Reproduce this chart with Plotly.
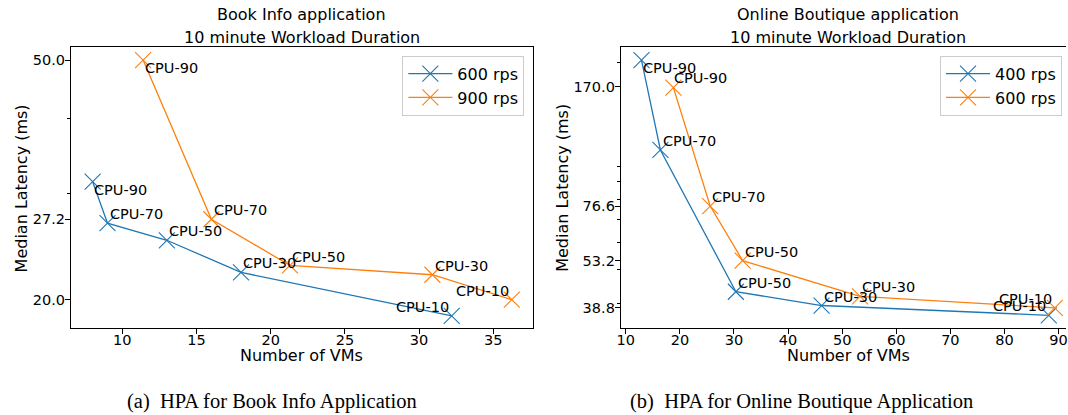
import math
import plotly.graph_objects as go

# ---------------- data ----------------
labels = ["CPU-90", "CPU-70", "CPU-50", "CPU-30", "CPU-10"]

# (a) Book Info application
book_600_vms = [8.0, 9.0, 13.0, 18.0, 32.2]
book_600_lat = [31.4, 26.8, 25.1, 22.2, 18.8]
book_900_vms = [11.4, 16.0, 21.3, 30.9, 36.25]
book_900_lat = [50.0, 27.2, 22.8, 22.0, 20.0]
book_xticks = [10, 15, 20, 25, 30, 35]
book_yticks = [20.0, 27.2, 50.0]
book_minor = [30, 40]

# (b) Online Boutique application
ob_400_vms = [12.9, 16.4, 30.35, 46.2, 88.2]
ob_400_lat = [203.0, 111.4, 43.2, 39.4, 36.9]
ob_600_vms = [18.8, 25.6, 31.6, 53.3, 89.3]
ob_600_lat = [169.0, 76.6, 53.2, 41.9, 38.8]
ob_xticks = [10, 20, 30, 40, 50, 60, 70, 80, 90]
ob_yticks = [38.8, 53.2, 76.6, 170.0]
ob_minor = [40, 50, 60, 70, 80, 90, 100, 200]

BLUE = "#1f77b4"
ORANGE = "#ff7f0e"
FONT = "DejaVu Sans"
W, H = 1068, 415

fig = go.Figure()

def add_series(x, y, name, color, xa, ya, legend):
    fig.add_trace(go.Scatter(
        x=x, y=y, name=name, mode="lines+markers",
        line=dict(color=color, width=1.3),
        marker=dict(symbol="x-thin", size=16, line=dict(color=color, width=1.1)),
        xaxis=xa, yaxis=ya, legend=legend,
    ))

add_series(book_600_vms, book_600_lat, "600 rps", BLUE, "x", "y", "legend")
add_series(book_900_vms, book_900_lat, "900 rps", ORANGE, "x", "y", "legend")
add_series(ob_400_vms, ob_400_lat, "400 rps", BLUE, "x2", "y2", "legend2")
add_series(ob_600_vms, ob_600_lat, "600 rps", ORANGE, "x2", "y2", "legend2")

# label placement style: (anchor, dx px, baseline dy px, screen-down)
def lbl_style(i, below_first=True):
    if i == 0 and below_first:
        return ("left", 1.5, 12.5)
    if i == 0:
        return ("left", 0.7, -5.4)
    if i == 4:
        return ("right", -2.5, -4.5)
    return ("left", 2.2, -4.3)

annotations = []
def add_labels(xs, ys, xref, yref, below_first=True):
    for i, (xv, yv) in enumerate(zip(xs, ys)):
        anc, dx, bdy = lbl_style(i, below_first)
        xshift = dx - 2 if anc == "left" else dx + 2
        yshift = -(bdy + 5.4)
        annotations.append(dict(
            x=xv, y=math.log10(yv), xref=xref, yref=yref, text=labels[i],
            showarrow=False, xanchor=anc, yanchor="bottom",
            xshift=xshift, yshift=yshift,
            font=dict(family=FONT, size=14.5, color="black"),
        ))

add_labels(book_600_vms, book_600_lat, "x", "y")
add_labels(book_900_vms, book_900_lat, "x", "y")
add_labels(ob_400_vms, ob_400_lat, "x2", "y2")
add_labels(ob_600_vms, ob_600_lat, "x2", "y2", below_first=False)

def paper_text(text, px, py, size, family=FONT, angle=0, color="black"):
    annotations.append(dict(
        x=px / W, y=1 - py / H, xref="paper", yref="paper", text=text,
        showarrow=False, xanchor="center", yanchor="middle", textangle=angle,
        font=dict(family=family, size=size, color=color),
    ))

# titles
paper_text("Book Info application", 299.5, 14, 16)
paper_text("10 minute Workload Duration", 299.5, 38, 16)
paper_text("Online Boutique application", 849, 14, 16)
paper_text("10 minute Workload Duration", 849, 38, 16)
# axis titles
paper_text("Number of VMs", 299.5, 355, 16)
paper_text("Number of VMs", 849, 355, 16)
paper_text("Median Latency (ms)", 17.5, 188, 16, angle=-90)
paper_text("Median Latency (ms)", 561, 188, 16, angle=-90)
# captions
paper_text("(a)  HPA for Book Info Application", 270, 401, 20.5, family="Liberation Serif")
paper_text("(b)  HPA for Online Boutique Application", 802, 401, 20.5, family="Liberation Serif")

ydom = [1 - 328.3 / H, 1 - 47.3 / H]

common_axis = dict(
    showline=True, linecolor="black", linewidth=1,
    ticks="outside", ticklen=5, tickwidth=1, tickcolor="black",
    showgrid=False, zeroline=False, ticklabeloverflow="allow",
    tickfont=dict(family=FONT, size=14.5, color="black"),
)

fig.update_layout(
    width=W, height=H, autosize=False,
    margin=dict(l=0, r=0, t=0, b=0),
    paper_bgcolor="white", plot_bgcolor="white",
    annotations=annotations,
    xaxis=dict(domain=[67.3 / W, 531.7 / W], range=[6.535, 37.66], anchor="y",
               mirror=True, tickvals=book_xticks, ticklabelstandoff=-7, **common_axis),
    yaxis=dict(domain=ydom, type="log", range=[1.2535, 1.7201], anchor="x",
               mirror=True, tickvals=book_yticks,
               ticktext=[f"{v:.1f}" for v in book_yticks], ticklabelstandoff=-3,
               minor=dict(tickvals=book_minor, ticks="outside", ticklen=3,
                          tickcolor="black", tickwidth=1, showgrid=False),
               **common_axis),
    xaxis2=dict(domain=[620.3 / W, 1.0], range=[9.081, 91.38], anchor="y2",
                mirror=True, tickvals=ob_xticks, ticklabelstandoff=-7, **common_axis),
    yaxis2=dict(domain=ydom, type="log", range=[1.5294, 2.3448], anchor="x2",
                mirror=False, tickvals=ob_yticks,
                ticktext=[f"{v:.1f}" for v in ob_yticks], ticklabelstandoff=-3,
                minor=dict(tickvals=ob_minor, ticks="outside", ticklen=3,
                           tickcolor="black", tickwidth=1, showgrid=False),
                **common_axis),
    legend=dict(x=523.3 / W, y=1 - 55.7 / H, xanchor="right", yanchor="top",
                bgcolor="white", bordercolor="#cccccc", borderwidth=1,
                itemwidth=44, tracegroupgap=0,
                font=dict(family=FONT, size=16, color="black")),
    legend2=dict(x=1064 / W, y=1 - 55.7 / H, xanchor="right", yanchor="top",
                 bgcolor="white", bordercolor="#cccccc", borderwidth=1,
                 itemwidth=44, tracegroupgap=0,
                 font=dict(family=FONT, size=16, color="black")),
)

fig.write_html("out.html")
